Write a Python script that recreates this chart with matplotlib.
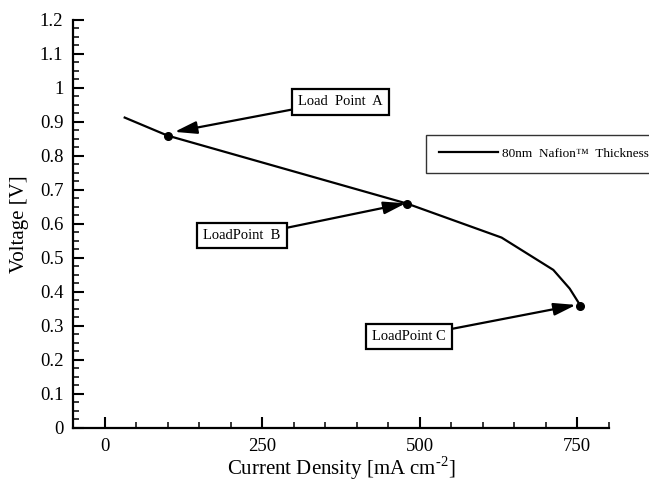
import matplotlib
matplotlib.use("Agg")
import matplotlib.pyplot as plt
from matplotlib.ticker import MultipleLocator

plt.rcParams['font.family'] = ['Liberation Serif', 'DejaVu Serif']
plt.rcParams['mathtext.fontset'] = 'custom'
plt.rcParams['mathtext.rm'] = 'Liberation Serif'

# Polarization curve, 80 nm Nafion film
current = [32, 100, 480, 630, 712, 738, 755]
voltage = [0.913, 0.86, 0.66, 0.56, 0.465, 0.41, 0.36]

# Load points marked on the curve
load_names = ["Load  Point  A", "LoadPoint  B", "LoadPoint C"]
load_current = [100, 480, 755]
load_voltage = [0.86, 0.66, 0.36]

x_ticks = [0, 250, 500, 750]
y_ticks = [0, 0.1, 0.2, 0.3, 0.4, 0.5, 0.6, 0.7, 0.8, 0.9, 1, 1.1, 1.2]
y_tick_labels = ["0", "0.1", "0.2", "0.3", "0.4", "0.5", "0.6", "0.7",
                 "0.8", "0.9", "1", "1.1", "1.2"]

fig = plt.figure(figsize=(6.49, 4.83), dpi=100)
ax = fig.add_axes([0.1125, 0.1139, 0.8255, 0.8447])

line, = ax.plot(current, voltage, color='black', lw=1.6,
                label="80nm  Nafion™  Thickness", zorder=3)
ax.plot(load_current, load_voltage, 'o', color='black', ms=5.5, zorder=4)

ax.set_xlim(-50, 800)
ax.set_ylim(0, 1.2)
ax.set_xticks(x_ticks)
ax.set_yticks(y_ticks)
ax.set_yticklabels(y_tick_labels)
ax.xaxis.set_minor_locator(MultipleLocator(50))
ax.yaxis.set_minor_locator(MultipleLocator(0.025))
ax.tick_params(which='major', direction='in', length=8, width=1.5,
               labelsize=13.5, pad=7)
ax.tick_params(which='minor', direction='in', length=4.5, width=1.1)

for side in ('top', 'right'):
    ax.spines[side].set_visible(False)
for side in ('left', 'bottom'):
    ax.spines[side].set_linewidth(1.6)

ax.set_xlabel(r"Current Density [mA cm$^{\text{-2}}$]", fontsize=15, labelpad=0)
ax.set_ylabel("Voltage [V]", fontsize=15, labelpad=8)

# Annotation boxes with arrows pointing at each load point
box_style = dict(boxstyle='square,pad=0.42', fc='white', ec='black', lw=1.6)
text_pos = [(374, 0.959), (218, 0.566), (483, 0.269)]
arrow_tips = [(111, 0.871), (478, 0.661), (748, 0.362)]
rel_start = [(0, 0), (1, 1), (1, 1)]
for name, pos, tip, rel in zip(load_names, text_pos, arrow_tips, rel_start):
    ax.annotate(name, xy=tip, xytext=pos, ha='center', va='center',
                fontsize=10.5, bbox=box_style, zorder=5,
                arrowprops=dict(arrowstyle='-|>,head_length=1.35,head_width=0.38',
                                mutation_scale=10, fc='black', ec='black',
                                lw=1.6, shrinkA=0, shrinkB=0, relpos=rel))

leg = fig.legend(handles=[line], loc='upper left',
                 bbox_to_anchor=(0.6564, 0.7211), fontsize=9.5,
                 handlelength=4.45, handletextpad=0.3, borderpad=0.98,
                 borderaxespad=0, frameon=True, fancybox=False)
leg.get_frame().set_edgecolor('black')
leg.get_frame().set_linewidth(1.0)

fig.savefig("out.png", dpi=100)
